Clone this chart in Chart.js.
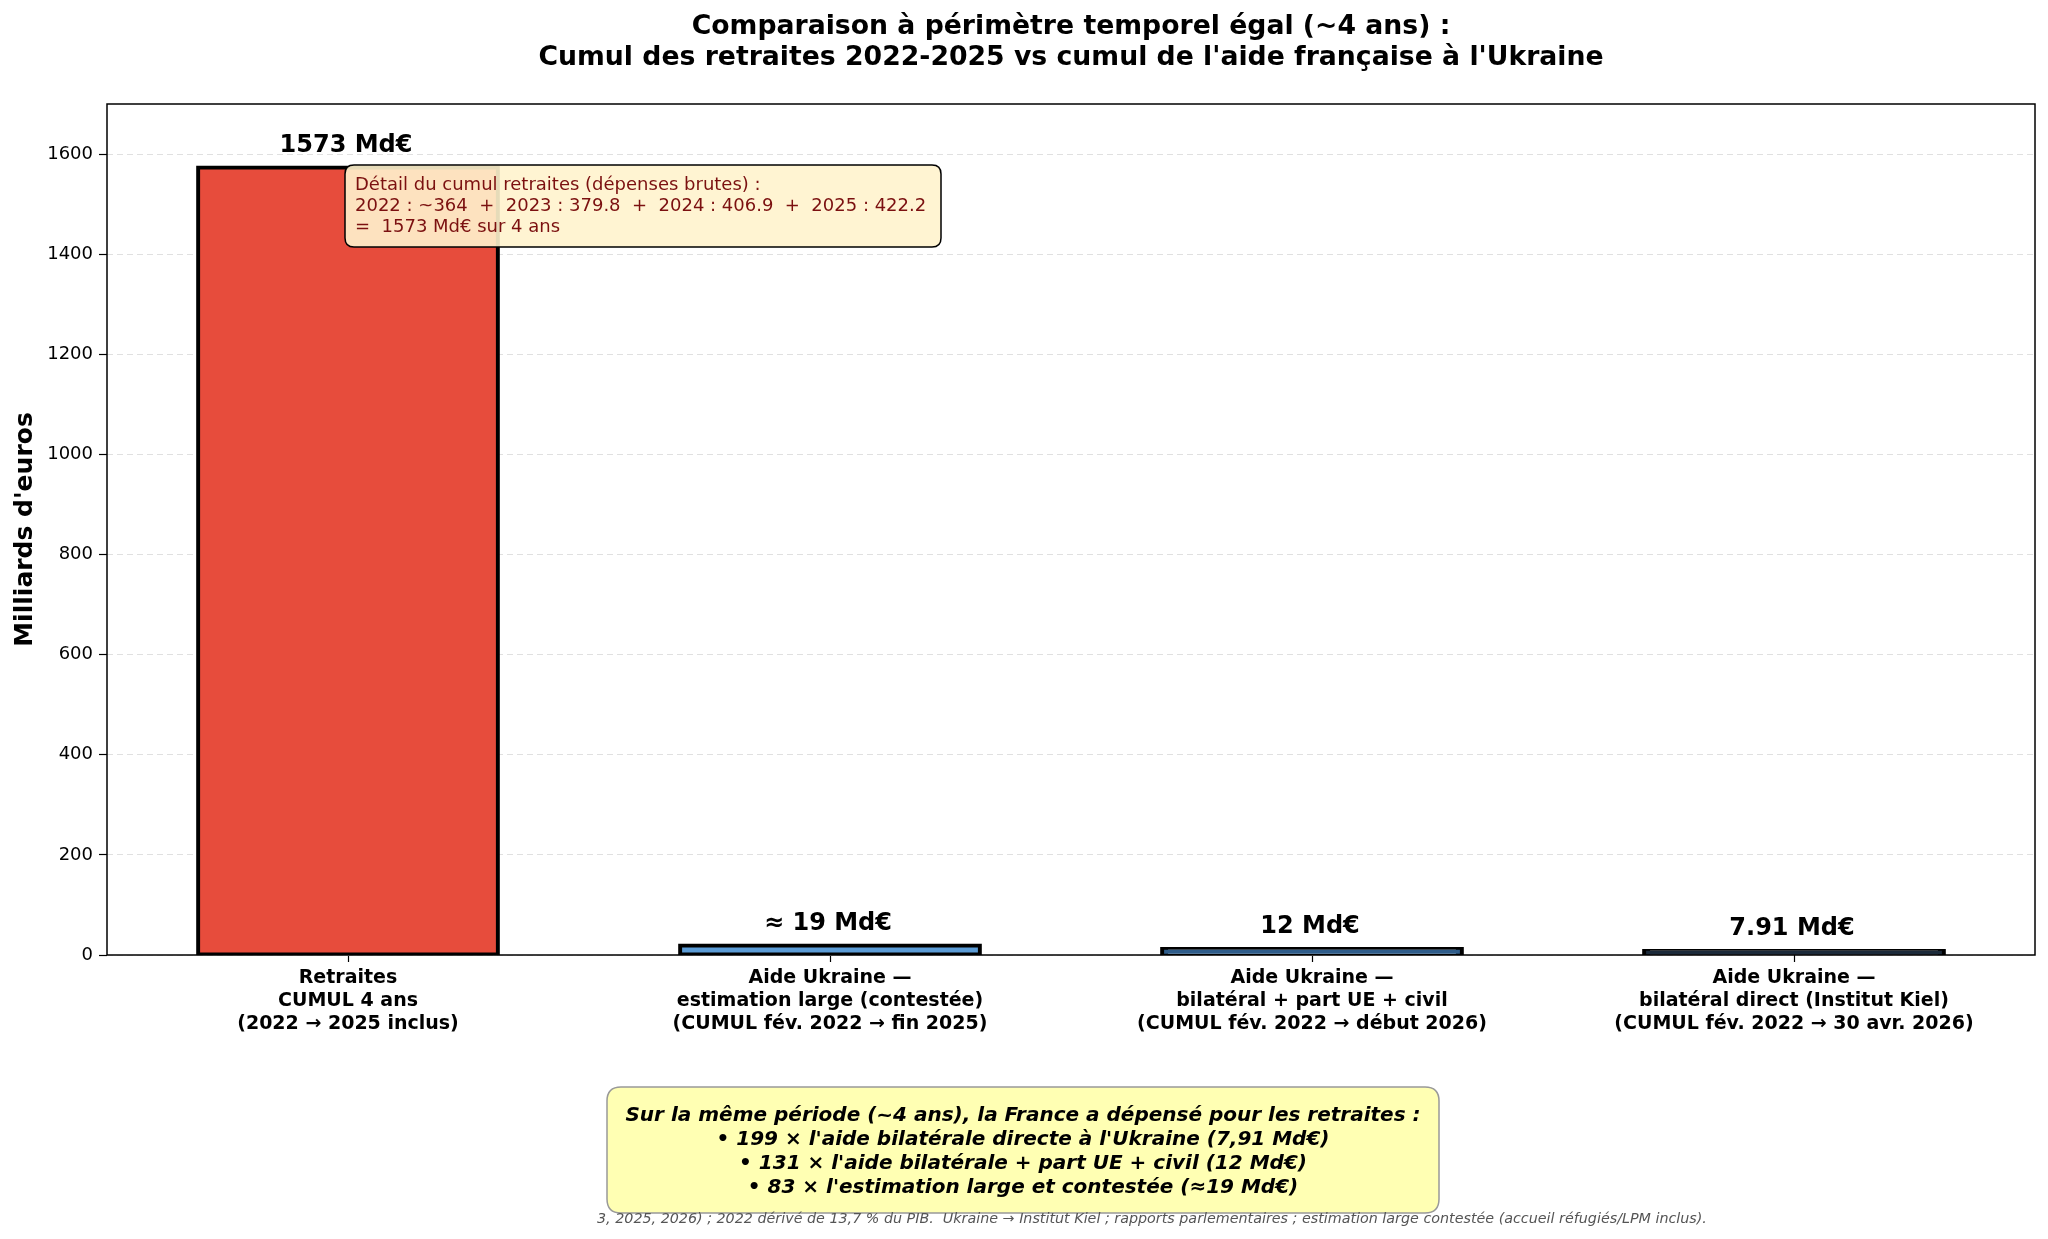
<!DOCTYPE html>
<html>
<head>
<meta charset="utf-8">
<script src="https://cdn.jsdelivr.net/npm/chart.js@4/dist/chart.umd.min.js"></script>
<style>
  body { margin: 0; background: #fff; }
  canvas { display: block; }
</style>
</head>
<body>
<canvas id="chart" width="2048" height="1239"></canvas>
<script>
const categories = [
    ["Retraites", "CUMUL 4 ans", "(2022 → 2025 inclus)"],
    ["Aide Ukraine —", "estimation large (contestée)", "(CUMUL fév. 2022 → fin 2025)"],
    ["Aide Ukraine —", "bilatéral + part UE + civil", "(CUMUL fév. 2022 → début 2026)"],
    ["Aide Ukraine —", "bilatéral direct (Institut Kiel)", "(CUMUL fév. 2022 → 30 avr. 2026)"]
];
const values = [1573, 19, 12, 7.91];
const valueLabels = ["1573 Md€", "≈ 19 Md€", "12 Md€", "7.91 Md€"];
const barColors = ["#e74c3c", "#5b9bd5", "#2e5c8a", "#1b2a3a"];
const yTicks = [0, 200, 400, 600, 800, 1000, 1200, 1400, 1600];

const titleLines = [
    "Comparaison à périmètre temporel égal (~4 ans) :",
    "Cumul des retraites 2022-2025 vs cumul de l'aide française à l'Ukraine"
];
const detailLines = [
    "Détail du cumul retraites (dépenses brutes) :",
    "2022 : ~364  +  2023 : 379.8  +  2024 : 406.9  +  2025 : 422.2",
    "=  1573 Md€ sur 4 ans"
];
const summaryLines = [
    "Sur la même période (~4 ans), la France a dépensé pour les retraites :",
    "• 199 × l'aide bilatérale directe à l'Ukraine (7,91 Md€)",
    "• 131 × l'aide bilatérale + part UE + civil (12 Md€)",
    "• 83 × l'estimation large et contestée (≈19 Md€)"
];
const footerText = "3, 2025, 2026) ; 2022 dérivé de 13,7 % du PIB.  Ukraine → Institut Kiel ; rapports parlementaires ; estimation large contestée (accueil réfugiés/LPM inclus).";

const FONT = "'DejaVu Sans', Arial, sans-serif";

function roundBox(ctx, x, y, w, h, r) {
    ctx.beginPath();
    ctx.moveTo(x + r, y);
    ctx.lineTo(x + w - r, y);
    ctx.quadraticCurveTo(x + w, y, x + w, y + r);
    ctx.lineTo(x + w, y + h - r);
    ctx.quadraticCurveTo(x + w, y + h, x + w - r, y + h);
    ctx.lineTo(x + r, y + h);
    ctx.quadraticCurveTo(x, y + h, x, y + h - r);
    ctx.lineTo(x, y + r);
    ctx.quadraticCurveTo(x, y, x + r, y);
    ctx.closePath();
}

const decorPlugin = {
    id: "decor",
    afterDatasetsDraw(chart) {
        const ctx = chart.ctx;
        const meta = chart.getDatasetMeta(0);
        ctx.save();
        ctx.fillStyle = "#000";
        ctx.font = "bold 24px " + FONT;
        ctx.textAlign = "center";
        ctx.textBaseline = "middle";
        meta.data.forEach((bar, i) => {
            ctx.fillText(valueLabels[i], bar.x - 2, bar.y - 22);
        });
        ctx.restore();
    },
    afterDraw(chart) {
        const ctx = chart.ctx;
        const area = chart.chartArea;
        ctx.save();

        // frame
        ctx.strokeStyle = "#000";
        ctx.lineWidth = 1.5;
        ctx.strokeRect(area.left, area.top, area.right - area.left, area.bottom - area.top);

        // title
        const cx = (area.left + area.right) / 2;
        ctx.fillStyle = "#000";
        ctx.font = "bold 26.7px " + FONT;
        ctx.textAlign = "center";
        ctx.textBaseline = "middle";
        ctx.fillText(titleLines[0], cx, 27);
        ctx.fillText(titleLines[1], cx, 58);

        // detail box
        const bx = area.left + 238, by = area.top + 61, bw = 596, bh = 82;
        roundBox(ctx, bx, by, bw, bh, 9);
        ctx.fillStyle = "rgba(255, 243, 205, 0.9)";
        ctx.fill();
        ctx.strokeStyle = "#000";
        ctx.lineWidth = 1.5;
        ctx.stroke();
        ctx.fillStyle = "#7b1010";
        ctx.font = "18px " + FONT;
        ctx.textAlign = "left";
        detailLines.forEach((t, i) => ctx.fillText(t, bx + 10, by + 20 + i * 21));

        // summary box
        const sx = 607, sy = 1087, sw = 832, sh = 126;
        roundBox(ctx, sx, sy, sw, sh, 14);
        ctx.fillStyle = "#ffffb3";
        ctx.fill();
        ctx.strokeStyle = "#999";
        ctx.lineWidth = 1.5;
        ctx.stroke();
        ctx.fillStyle = "#000";
        ctx.font = "italic bold 20px " + FONT;
        ctx.textAlign = "center";
        summaryLines.forEach((t, i) => ctx.fillText(t, 1023, 1116 + i * 23.8));

        // footer
        ctx.fillStyle = "#555";
        ctx.font = "italic 14.3px " + FONT;
        ctx.textAlign = "left";
        ctx.fillText(footerText, 597, 1219);

        ctx.restore();
    }
};

new Chart(document.getElementById("chart"), {
    type: "bar",
    data: {
        labels: categories,
        datasets: [{
            data: values,
            backgroundColor: barColors,
            borderColor: "#000",
            borderWidth: 4,
            borderSkipped: false,
            inflateAmount: 2,
            barPercentage: 0.622,
            categoryPercentage: 1.0
        }]
    },
    options: {
        responsive: false,
        animation: false,
        devicePixelRatio: 1,
        layout: { padding: { top: 104, right: 13, left: 0, bottom: 0 } },
        plugins: {
            legend: { display: false },
            tooltip: { enabled: false },
            title: { display: false }
        },
        scales: {
            x: {
                grid: {
                    offset: false,
                    drawOnChartArea: false,
                    drawTicks: true,
                    tickLength: 7,
                    tickColor: "#000",
                    tickWidth: 1.2
                },
                border: { display: false },
                ticks: {
                    color: "#000",
                    padding: 5,
                    maxRotation: 0,
                    autoSkip: false,
                    font: { family: FONT, size: 19, weight: "bold", lineHeight: 1.2 }
                },
                afterFit(scale) { scale.height = 284; }
            },
            y: {
                min: 0,
                max: 1700,
                afterBuildTicks(scale) {
                    scale.ticks = yTicks.map(v => ({ value: v }));
                },
                grid: {
                    color: "#e0e0e0",
                    lineWidth: 1,
                    tickLength: 8,
                    tickColor: "#000",
                    tickWidth: 1.2,
                    tickBorderDash: []
                },
                border: { display: false, dash: [6, 4] },
                ticks: {
                    color: "#000",
                    padding: 6,
                    font: { family: FONT, size: 18 },
                    callback: (v) => String(v)
                },
                title: {
                    display: true,
                    text: "Milliards d'euros",
                    color: "#000",
                    padding: { top: 10, bottom: 0 },
                    font: { family: FONT, size: 25, weight: "bold" }
                },
                afterFit(scale) { scale.width = 107; }
            }
        }
    },
    plugins: [decorPlugin]
});
</script>
</body>
</html>
